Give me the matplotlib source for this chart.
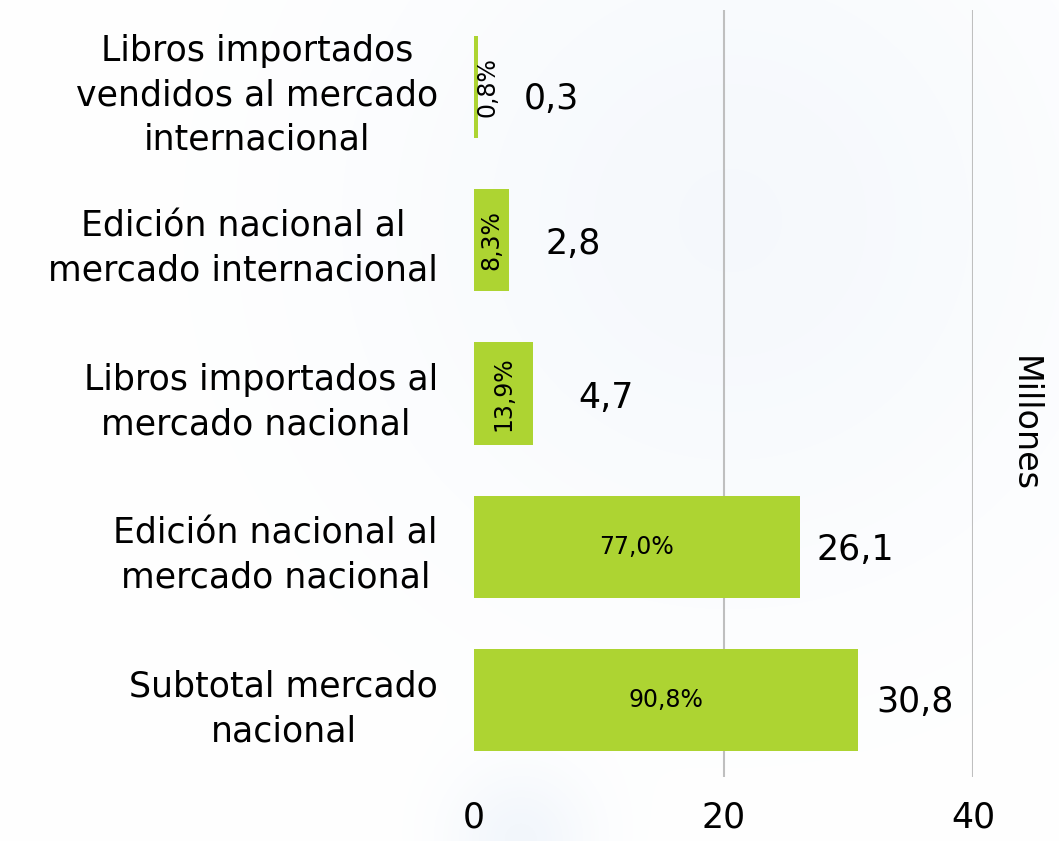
import numpy as np
import matplotlib
matplotlib.use("Agg")
import matplotlib.pyplot as plt

categories = [
    "Libros importados\nvendidos al mercado\ninternacional",
    "Edición nacional al\nmercado internacional",
    "Libros importados al\nmercado nacional ",
    "Edición nacional al\nmercado nacional",
    "Subtotal mercado\nnacional",
]
values = [0.3, 2.8, 4.7, 26.1, 30.8]
value_labels = ["0,3", "2,8", "4,7", "26,1", "30,8"]
pct_labels = ["0,8%", "8,3%", "13,9%", "77,0%", "90,8%"]
xticks = [0, 20, 40]

# label offsets from bar end (points), just layout
label_dx = [33, 26, 33, 12, 13]
label_dy = [-9, -3, -3, -2, -1]

plt.rcParams['font.family'] = ['DejaVu Sans']
bar_color = "#ADD432"

fig = plt.figure(figsize=(10.59, 8.41), dpi=100)

# faint radial glow in the background
bg = fig.add_axes([0, 0, 1, 1], zorder=-10)
yy, xx = np.mgrid[0:841, 0:1059]
g1 = np.exp(-(((xx - 730) ** 2 + (yy - 220) ** 2) / (2 * 260.0 ** 2)))
g2 = np.exp(-(((xx - 520) ** 2 + (yy - 840) ** 2) / (2 * 50.0 ** 2)))
glow = np.clip(g1 * 0.6 + g2 * 0.8, 0, 1)
top = np.array([1.0, 1.0, 1.0])
blue = np.array([0.94, 0.96, 0.985])
img = top[None, None, :] * (1 - glow[..., None]) + blue[None, None, :] * glow[..., None]
bg.imshow(img, aspect="auto", extent=[0, 1, 0, 1])
bg.axis("off")

ax = fig.add_axes([474 / 1059, 1 - 777 / 841, 499 / 1059, 767 / 841])
ax.patch.set_alpha(0)

y = np.arange(len(categories))
bars = ax.barh(y, values, height=0.665, color=bar_color, zorder=3)
ax.set_xlim(0, 40)
ax.set_ylim(len(categories) - 0.5, -0.5)

ax.set_xticks(xticks)
ax.set_xticklabels([str(t) for t in xticks], fontsize=25)
ax.set_yticks(y)
ax.set_yticklabels(categories, fontsize=25, multialignment="center", linespacing=1.38)
ax.tick_params(axis="both", length=0)
ax.tick_params(axis="x", pad=17)
ax.tick_params(axis="y", pad=26)
for s in ax.spines.values():
    s.set_visible(False)

for xv in xticks[1:]:
    ax.axvline(xv, color="#BFBFBF", linewidth=1.5, zorder=1)

for i, v in enumerate(values):
    ax.annotate(value_labels[i], (v, i), xytext=(label_dx[i], label_dy[i]),
                textcoords="offset points", ha="left", va="center", fontsize=25)
    if v < 10:
        ax.text(max(v / 2, 1.05), i, pct_labels[i], rotation=90, ha="center",
                va="center", fontsize=17, zorder=4)
    else:
        ax.text(v / 2, i, pct_labels[i], ha="center", va="center", fontsize=17, zorder=4)

ax.set_ylabel("Millones", rotation=270, fontsize=24, va="center")
ax.yaxis.set_label_position("right")
ax.yaxis.set_label_coords(1.135, 0.46)

fig.savefig("out.png", dpi=100)
